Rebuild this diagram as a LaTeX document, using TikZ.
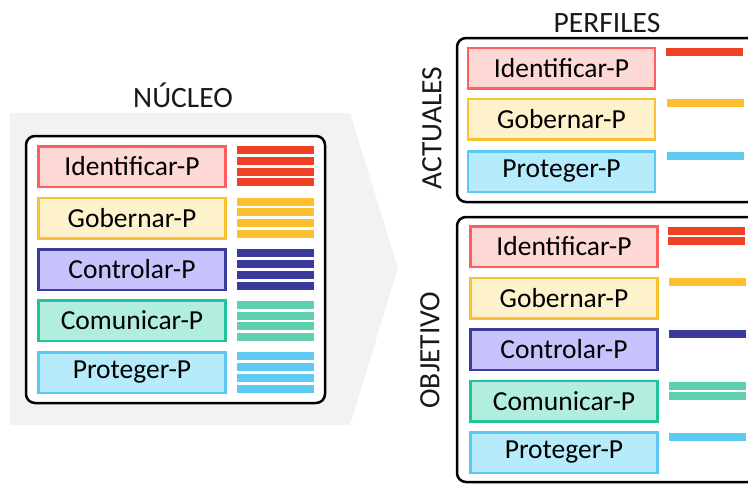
\documentclass[tikz,border=0pt]{standalone}
\usepackage{fontspec}
\setmainfont{Carlito}
\definecolor{idB}{HTML}{FF5E5E}\definecolor{idF}{HTML}{FCD9D4}\definecolor{idL}{HTML}{EF4123}
\definecolor{goB}{HTML}{FBBF2F}\definecolor{goF}{HTML}{FEF2CC}\definecolor{goL}{HTML}{FBBF30}
\definecolor{coB}{HTML}{3B3B9E}\definecolor{coF}{HTML}{C8C3FC}\definecolor{coL}{HTML}{3A3A9E}
\definecolor{cmB}{HTML}{1EC49A}\definecolor{cmF}{HTML}{B1EEDD}\definecolor{cmL}{HTML}{5FCFB0}
\definecolor{prB}{HTML}{5CC9F2}\definecolor{prF}{HTML}{B5EBFA}\definecolor{prL}{HTML}{5FCBF2}
\definecolor{chev}{HTML}{F2F2F2}
\tikzset{
  pbox/.style={draw=#1B, fill=#1F, line width=2.5pt, minimum width=187pt, minimum height=40.5pt,
    inner sep=0pt, outer sep=0pt, font=\fontsize{27.5}{30}\selectfont, text=black},
  frame/.style={draw=black, line width=2.5pt, rounded corners=9pt},
  title/.style={font=\fontsize{29.5}{32}\selectfont, text=black!90, inner sep=0pt},
}
\begin{document}
\begin{tikzpicture}[x=1pt,y=-1pt]
\useasboundingbox (0,0) rectangle (748,483);
\begin{scope}
\clip (0,0) rectangle (748,483);
% chevron
\fill[chev] (10,113) -- (350,113) -- (398,268) -- (350,425) -- (10,425) -- cycle;
\node[title] (nucleo) at (183,95) {NÚCLEO};
\draw[frame, fill=white] (26,136) rectangle (325,403);
% left boxes
\node[pbox=id] (lid) at (132,166.5) {Identificar-P};
\node[pbox=go] (lgo) at (132,218) {Gobernar-P};
\node[pbox=co] (lco) at (132,269.5) {Controlar-P};
\node[pbox=cm] (lcm) at (132,320.5) {Comunicar-P};
\node[pbox=pr] (lpr) at (132,372.5) {Proteger-P};
% left bars
\foreach \c/\a/\b/\cc/\d in {idL/146/157/168/178, goL/198/208/219/230, coL/249/260/271/282, cmL/301/312/322/333, prL/352/363/374/385}{
  \foreach \y in {\a,\b,\cc,\d}{\fill[\c] (237,\y) rectangle (314,\y+8);}
}
% right titles
\node[title] (perfiles) at (607,23) {PERFILES};
\node[title, rotate=90] (actuales) at (432,128) {ACTUALES};
\node[title, rotate=90] (objetivo) at (430,350) {OBJETIVO};
% right frames
\draw[frame] (770,38) -- (457,38) -- (457,202) -- (770,202);
\draw[frame] (770,217) -- (457,217) -- (457,482) -- (770,482);
% top right boxes
\node[pbox=id] (aid) at (561.5,68) {Identificar-P};
\node[pbox=go] (ago) at (561.5,119) {Gobernar-P};
\node[pbox=pr] (apr) at (561.5,171.5) {Proteger-P};
\fill[idL] (666,48) rectangle (743,56);
\fill[goL] (667,99) rectangle (744,107);
\fill[prL] (667,152) rectangle (744,160);
% bottom right boxes
\node[pbox=id] (oid) at (564,246.5) {Identificar-P};
\node[pbox=go] (ogo) at (564,298) {Gobernar-P};
\node[pbox=co] (oco) at (564,349.5) {Controlar-P};
\node[pbox=cm] (ocm) at (564,401) {Comunicar-P};
\node[pbox=pr] (opr) at (564,452.5) {Proteger-P};
\fill[idL] (668,227) rectangle (745,235);
\fill[idL] (668,237) rectangle (745,245);
\fill[goL] (669,278) rectangle (746,286);
\fill[coL] (669,330) rectangle (746,338);
\fill[cmL] (669,382) rectangle (746,390);
\fill[cmL] (669,392) rectangle (746,400);
\fill[prL] (669,433) rectangle (746,441);
\end{scope}
\end{tikzpicture}
\end{document}
